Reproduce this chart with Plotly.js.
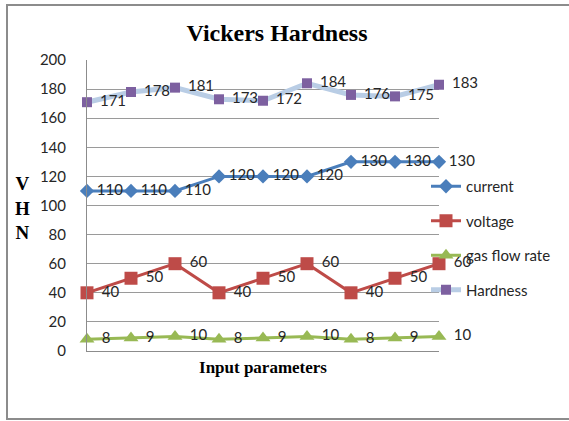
<!DOCTYPE html>
<html><head><meta charset="utf-8">
<script src="https://cdn.plot.ly/plotly-3.0.1.min.js"></script>
<style>html,body{margin:0;padding:0;background:#fff}#chart{width:569px;height:421px}</style>
</head><body><div id="chart"></div>
<script>
const runs = [1, 2, 3, 4, 5, 6, 7, 8, 9];
const current = [110, 110, 110, 120, 120, 120, 130, 130, 130];
const voltage = [40, 50, 60, 40, 50, 60, 40, 50, 60];
const gasFlowRate = [8, 9, 10, 8, 9, 10, 8, 9, 10];
const hardness = [171, 178, 181, 173, 172, 184, 176, 175, 183];
const seriesNames = ['current', 'voltage', 'gas flow rate', 'Hardness'];
const yTicks = [0, 20, 40, 60, 80, 100, 120, 140, 160, 180, 200];

const labelFont = {family: 'Lato, "Liberation Sans", sans-serif', size: 15, color: '#262626'};

function series(name, y, lineColor, lineWidth, symbol, mSize, mColor, pad) {
  return {
    x: runs, y: y, name: name, legendgroup: name,
    type: 'scatter', mode: 'lines+markers+text',
    text: y.map(v => pad + String(v)), textposition: 'middle right', textfont: labelFont,
    cliponaxis: false,
    line: {color: lineColor, width: lineWidth},
    marker: {symbol: symbol, size: mSize, color: mColor}
  };
}

const traces = [
  series(seriesNames[0], current, '#4A7EBB', 3, 'diamond', 11, '#4A7EBB', '\u2009'),
  series(seriesNames[1], voltage, '#BE4B48', 3, 'square', 13, '#BE4B48', '\u00a0\u2009'),
  series(seriesNames[2], gasFlowRate, '#98B954', 3, 'triangle-up', 13, '#98B954', '\u00a0\u2009'),
  series(seriesNames[3], hardness, '#B9CDE5', 5, 'square', 10, '#7D60A0', '\u00a0\u2009')
];

const L = 87, R = 439, T = 60, B = 351, W = 569, H = 421;
const px = v => (v - L) / (R - L);
const py = v => (B - v) / (B - T);

const layout = {
  width: W, height: H,
  margin: {l: L, r: W - R, t: T, b: H - B, pad: 0},
  paper_bgcolor: '#fff', plot_bgcolor: '#fff',
  showlegend: true,
  title: {
    text: 'Vickers Hardness',
    font: {family: '"Liberation Serif", "Times New Roman", serif', size: 24, color: '#000', weight: 'bold'},
    xref: 'paper', x: px(277), xanchor: 'center',
    yref: 'container', y: 1 - 33 / H, yanchor: 'middle'
  },
  xaxis: {
    range: [1, 9], showgrid: false, zeroline: false,
    showline: true, linecolor: '#8C8C8C', linewidth: 1,
    showticklabels: false, ticks: '',
    title: {text: 'Input parameters', standoff: 10,
      font: {family: '"Liberation Serif", "Times New Roman", serif', size: 17, color: '#000', weight: 'bold'}}
  },
  yaxis: {
    range: [0, 200], tickvals: yTicks, ticktext: yTicks.map(String),
    showgrid: true, gridcolor: '#9A9A9A', gridwidth: 1,
    zeroline: false, showline: true, linecolor: '#8C8C8C', linewidth: 1,
    ticks: '', ticklabelstandoff: 17,
    tickfont: labelFont
  },
  legend: {
    x: px(426), xanchor: 'left', y: py(170), yanchor: 'top',
    bgcolor: 'rgba(0,0,0,0)', borderwidth: 0,
    font: labelFont, traceorder: 'grouped', tracegroupgap: 12,
    itemwidth: 30
  },
  annotations: [{
    text: 'V<br>H<br>N', xref: 'paper', yref: 'paper',
    x: px(22), y: py(208), xanchor: 'center', yanchor: 'middle',
    showarrow: false,
    font: {family: '"Liberation Serif", "Times New Roman", serif', size: 19, color: '#000', weight: 'bold'}
  }],
  shapes: [{
    type: 'rect', xref: 'paper', yref: 'paper',
    x0: px(7), x1: px(580), y0: py(419), y1: py(5),
    line: {color: '#8C8C8C', width: 2}, fillcolor: 'rgba(0,0,0,0)', layer: 'below'
  }]
};

Plotly.newPlot('chart', traces, layout, {displayModeBar: false, staticPlot: true});
</script>
</body></html>
